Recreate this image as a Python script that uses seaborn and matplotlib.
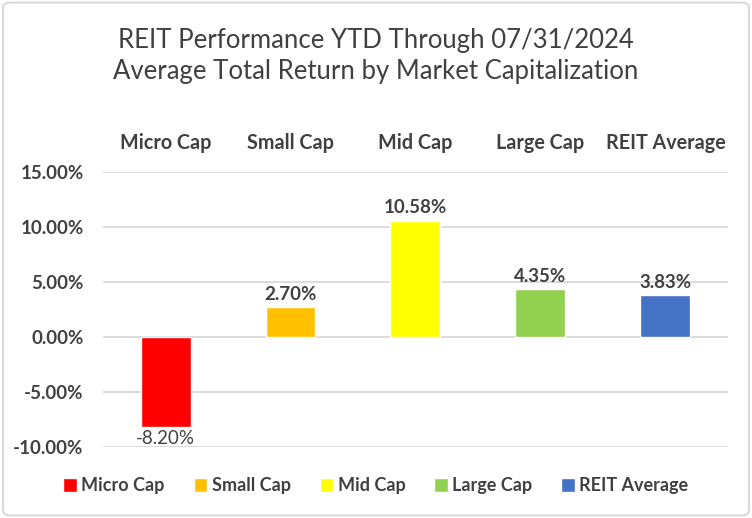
import matplotlib
matplotlib.use("Agg")
import matplotlib.pyplot as plt
import seaborn as sns
import pandas as pd
from matplotlib.patches import FancyBboxPatch
from matplotlib.ticker import FuncFormatter

categories = ["Micro Cap", "Small Cap", "Mid Cap", "Large Cap", "REIT Average"]
returns = [-8.20, 2.70, 10.58, 4.35, 3.83]
colors = ["#FF0000", "#FFC000", "#FFFF00", "#92D050", "#4472C4"]
y_ticks = [-10, -5, 0, 5, 10, 15]

df = pd.DataFrame({"category": categories, "ret": returns})

sns.set_theme(style="white")
plt.rcParams["font.family"] = ["Lato", "DejaVu Sans"]
text_col = "#404040"

fig = plt.figure(figsize=(7.52, 5.18), dpi=100)
ax = fig.add_axes([0.137, 0.137, 0.831, 0.531])

sns.barplot(data=df, x="category", y="ret", hue="category",
            palette=colors, width=0.4, legend=True, ax=ax, saturation=1)

ax.set_xlim(-0.5, 4.5)
ax.set_ylim(-10, 15)
ax.set_yticks(y_ticks)
ax.yaxis.set_major_formatter(FuncFormatter(lambda v, p: f"{v:.2f}%"))
ax.grid(axis="y", color="#D9D9D9", linewidth=1.3)
ax.set_axisbelow(True)
for s in ax.spines.values():
    s.set_visible(False)
ax.tick_params(axis="both", length=0)
ax.xaxis.tick_top()
ax.tick_params(axis="x", pad=14)
ax.tick_params(axis="y", pad=14)
for lab in ax.get_xticklabels():
    lab.set_fontsize(14.2)
    lab.set_fontweight("bold")
    lab.set_color(text_col)
for lab in ax.get_yticklabels():
    lab.set_fontsize(13.5)
    lab.set_fontweight("bold")
    lab.set_color(text_col)
ax.set_xlabel("")
ax.set_ylabel("")

for i, v in enumerate(returns):
    if v >= 0:
        ax.annotate(f"{v:.2f}%", (i, v), xytext=(0, 3), textcoords="offset points",
                    ha="center", va="bottom", fontsize=13.5, fontweight="bold", color=text_col)
    else:
        ax.annotate(f"{v:.2f}%", (i, v), xytext=(0, -2), textcoords="offset points",
                    ha="center", va="top", fontsize=13.5, color=text_col)

fig.text(0.5, 0.892, "REIT Performance YTD Through 07/31/2024\nAverage Total Return by Market Capitalization",
         ha="center", va="center", fontsize=18.5, color=text_col, linespacing=1.3)

sns.move_legend(ax, "center", bbox_to_anchor=(0.5, 0.062), bbox_transform=fig.transFigure,
                ncol=5, frameon=False, title=None, fontsize=13,
                handlelength=0.75, handleheight=0.75, handletextpad=0.25, columnspacing=1.6)
for t in ax.get_legend().get_texts():
    t.set_color(text_col)
    t.set_fontweight("bold")

fig.patches.append(FancyBboxPatch((0.004, 0.005), 0.992, 0.99, boxstyle="round,pad=0,rounding_size=0.01",
                                  transform=fig.transFigure, fill=False, edgecolor="#D9D9D9", linewidth=1.5))

fig.savefig("out.png", dpi=100)
